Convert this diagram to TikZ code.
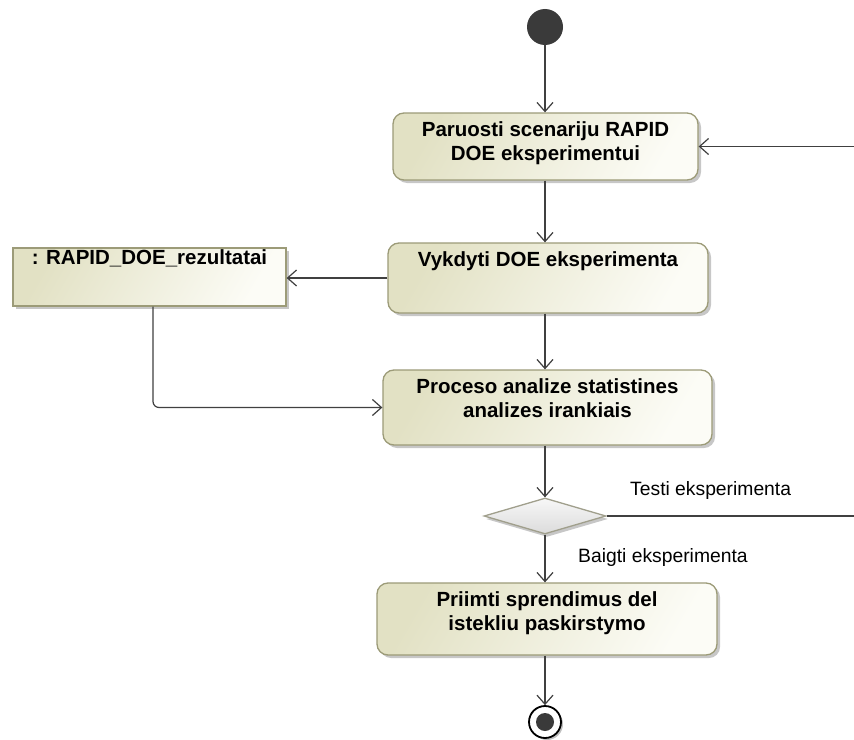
\documentclass[tikz,border=0pt]{standalone}
\usepackage{fontspec}
\setmainfont{Liberation Sans}
\usetikzlibrary{arrows.meta,shapes.geometric,shadows}

\definecolor{boxedge}{HTML}{9C9B78}
\definecolor{boxlight}{HTML}{FCFCF6}
\definecolor{boxdark}{HTML}{E2E1C4}
\definecolor{wire}{HTML}{404040}
\definecolor{blob}{HTML}{3A3A3A}
\definecolor{gateedge}{HTML}{A09F8C}

% text block of fixed size, set from the top
\newcommand{\boxtext}[3]{\parbox[c][#2bp][t]{#1bp}{\centering\vspace*{9bp}#3}}

\tikzset{
  acttext/.style={font=\fontsize{20.5bp}{24bp}\selectfont\bfseries},
  act/.style={draw=boxedge, line width=1.3bp, rounded corners=11bp,
    left color=boxdark, right color=boxlight, shading angle=60,
    inner sep=0pt, acttext,
    drop shadow={shadow xshift=3bp, shadow yshift=-3bp, fill=black, opacity=0.22}},
  objbox/.style={draw=boxedge, line width=1.3bp,
    left color=boxdark, right color=boxlight, shading angle=60,
    inner sep=0pt, acttext,
    drop shadow={shadow xshift=3bp, shadow yshift=-3bp, fill=black, opacity=0.22}},
  choice/.style={diamond, draw=gateedge, line width=1.3bp,
    top color=gray!6, bottom color=gray!28,
    minimum width=122bp, minimum height=36bp, inner sep=0pt,
    drop shadow={shadow xshift=2bp, shadow yshift=-3bp, fill=black, opacity=0.22}},
  initial/.style={circle, fill=blob, minimum size=36bp, inner sep=0pt},
  finalring/.style={circle, draw=black, line width=1.8bp, fill=white,
    minimum size=32bp, inner sep=0pt,
    drop shadow={shadow xshift=2bp, shadow yshift=-2bp, fill=black, opacity=0.25}},
  finaldot/.style={circle, fill=blob, minimum size=18bp, inner sep=0pt},
  guard/.style={font=\fontsize{19.3bp}{23bp}\selectfont, inner sep=0pt},
  flow/.style={draw=wire, line width=1.2bp,
    -{Straight Barb[length=9bp, width=16bp, line width=1.2bp]}},
}

\begin{document}
\begin{tikzpicture}[x=1bp, y=-1bp]
  \useasboundingbox (0,0) rectangle (854,740);
  \clip (0,0) rectangle (854,740);
  \fill[white] (0,0) rectangle (854,740);

  % nodes
  \node[initial] (start) at (545,27) {};
  \node[act] (a1) at (545.5,146.5)
    {\boxtext{305}{67}{Paruosti scenariju RAPID\\DOE eksperimentui}};
  \node[act] (a2) at (548,278) {\boxtext{320}{70}{Vykdyti DOE eksperimenta}};
  \node[objbox] (obj) at (149.5,277)
    {\parbox[c][58bp][t]{273bp}{\centering\vspace*{2bp}: RAPID\_DOE\_rezultatai}};
  \node[act] (a3) at (547.5,407.5)
    {\boxtext{329}{75}{Proceso analize statistines\\analizes irankiais}};
  \node[choice] (dec) at (545,516) {};
  \node[act] (a4) at (547,619)
    {\boxtext{340}{72}{Priimti sprendimus del\\istekliu paskirstymo}};
  \node[finalring] (end) at (545,722) {};
  \node[finaldot] (enddot) at (end.center) {};

  % return path runs past the right edge
  \coordinate (back) at (864,516);

  % connectors
  \draw[flow] (start) -- (a1.north -| start);
  \draw[flow] (a1.south -| start) -- (a2.north -| start);
  \draw[flow] (a2.west) -- (a2.west -| obj.east);
  \draw[flow, rounded corners=6bp] ([xshift=3.5bp]obj.south) |- (a3.west);
  \draw[flow] (a2.south -| start) -- (a3.north -| start);
  \draw[flow] (a3.south -| start) -- (dec.north);
  \draw[flow] (dec.south) -- (a4.north -| start);
  \draw[flow] (dec.east) -- (back) -- (a1.east -| back) -- (a1.east);
  \draw[flow] (a4.south -| start) -- (end.north);

  % guards
  \node[guard, anchor=west] (gtest) at (630,491) {Testi eksperimenta};
  \node[guard, anchor=west] (gend) at (578,558) {Baigti eksperimenta};
\end{tikzpicture}
\end{document}
